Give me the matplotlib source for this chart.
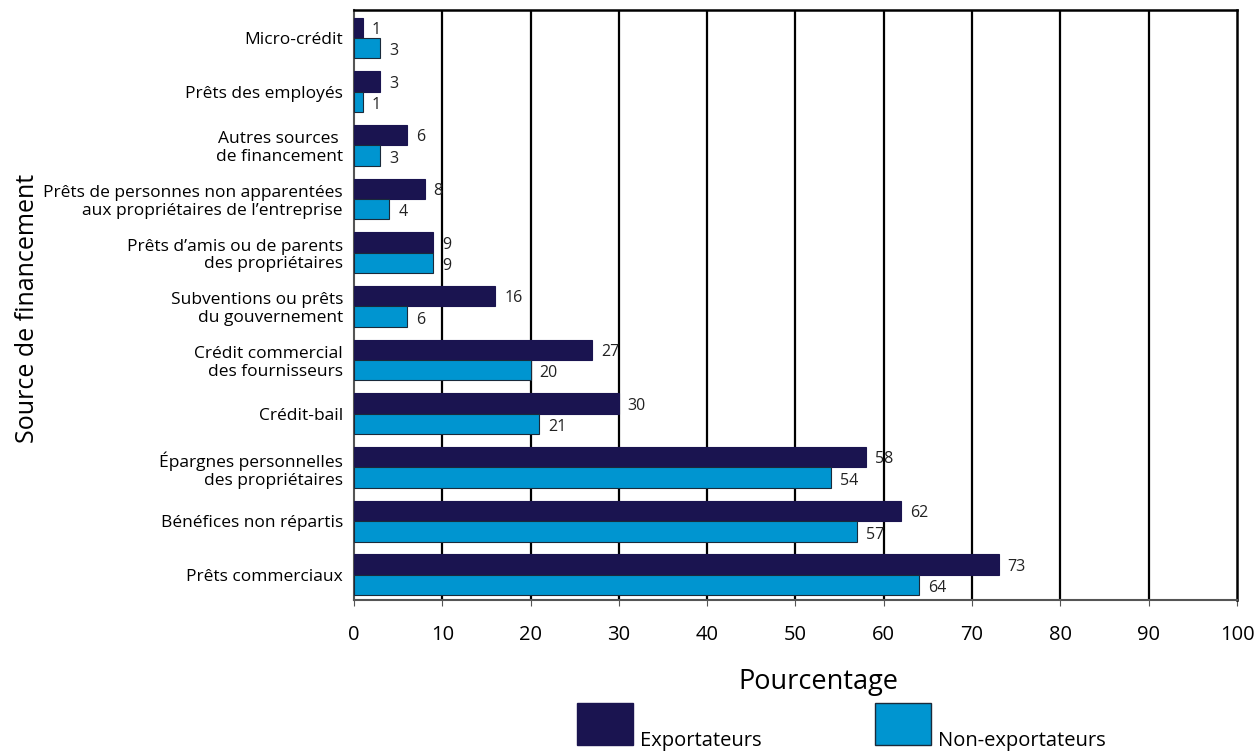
import numpy as np
import matplotlib.pyplot as plt
from matplotlib.patches import Rectangle

plt.rcParams['font.family'] = ['Open Sans', 'DejaVu Sans']

categories = [
    "Micro-crédit",
    "Prêts des employés",
    "Autres sources \nde financement",
    "Prêts de personnes non apparentées\naux propriétaires de l’entreprise",
    "Prêts d’amis ou de parents\ndes propriétaires",
    "Subventions ou prêts\ndu gouvernement",
    "Crédit commercial\ndes fournisseurs",
    "Crédit-bail",
    "Épargnes personnelles\ndes propriétaires",
    "Bénéfices non répartis",
    "Prêts commerciaux",
]
exportateurs = [1, 3, 6, 8, 9, 16, 27, 30, 58, 62, 73]
non_exportateurs = [3, 1, 3, 4, 9, 6, 20, 21, 54, 57, 64]
x_ticks = [0, 10, 20, 30, 40, 50, 60, 70, 80, 90, 100]

dark = "#1a1450"
light = "#0095d0"

fig = plt.figure(figsize=(12.58, 7.52), dpi=100)
ax = fig.add_axes([0.2814, 0.2021, 0.7019, 0.7846])

y = np.arange(len(categories))
h = 0.38
ax.barh(y - h / 2, exportateurs, height=h, color=dark, edgecolor=dark, linewidth=0.8, zorder=3)
ax.barh(y + h / 2, non_exportateurs, height=h, color=light, edgecolor="#1a2a3a", linewidth=0.8, zorder=3)

for yi, v in zip(y, exportateurs):
    ax.text(v + 1.0, yi - h / 2 + 0.04, str(v), va="center", ha="left", fontsize=11.5, color="#222222")
for yi, v in zip(y, non_exportateurs):
    ax.text(v + 1.0, yi + h / 2 + 0.06, str(v), va="center", ha="left", fontsize=11.5, color="#222222")

ax.set_xlim(0, 100)
ax.set_ylim(10.47, -0.52)
ax.set_xticks(x_ticks)
ax.set_xticklabels([str(t) for t in x_ticks], fontsize=14.5)
ax.set_yticks(y)
ax.set_yticklabels(categories, fontsize=12.5, linespacing=1.15)
ax.tick_params(axis="y", length=0, pad=8)
ax.tick_params(axis="x", length=4, pad=14, color="#555555")

for t in x_ticks[1:-1]:
    ax.axvline(t, color="black", linewidth=1.6, zorder=1)

ax.spines["top"].set_color("black")
ax.spines["top"].set_linewidth(1.8)
ax.spines["right"].set_color("black")
ax.spines["right"].set_linewidth(1.8)
ax.spines["left"].set_color("#555555")
ax.spines["left"].set_linewidth(1.5)
ax.spines["bottom"].set_color("#555555")
ax.spines["bottom"].set_linewidth(1.5)

ax.set_xlabel("Pourcentage", fontsize=19.5)
ax.xaxis.set_label_coords(0.526, -0.115)
fig.text(0.022, 0.59, "Source de financement", rotation=90, fontsize=18, ha="center", va="center")

# legend
W, H = 1258, 752
for x0, col, ec, label in [(577, dark, dark, "Exportateurs"), (875, light, "#1a2a3a", "Non-exportateurs")]:
    fig.add_artist(Rectangle((x0 / W, (H - 745) / H), 56 / W, 42 / H, transform=fig.transFigure,
                             facecolor=col, edgecolor=ec, linewidth=1.0))
    fig.text((x0 + 63) / W, (H - 746) / H, label, fontsize=14.5, ha="left", va="baseline")

fig.savefig("out.png", dpi=100)
